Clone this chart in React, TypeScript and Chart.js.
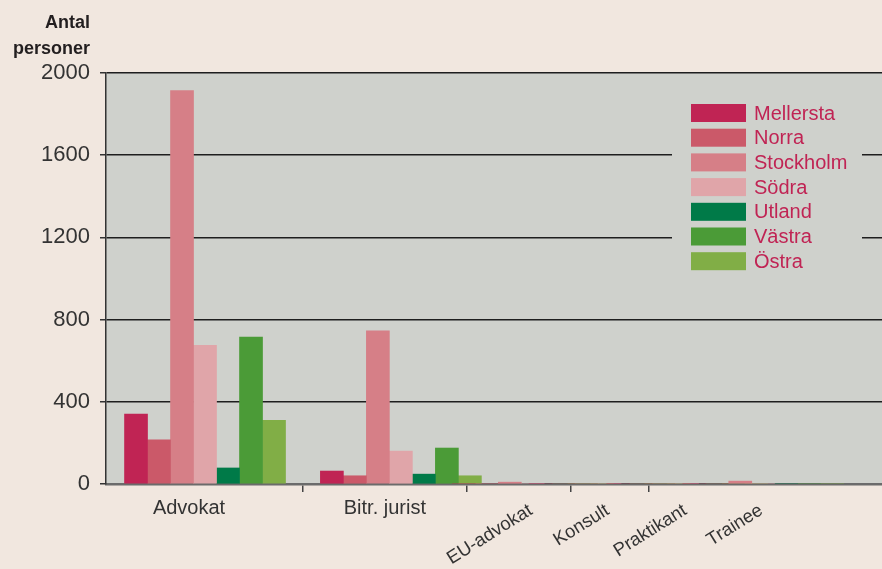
import React, { useEffect, useRef } from 'react';
import { Chart, registerables, CategoryScale } from 'chart.js';

Chart.register(...registerables);

// ---------- data ----------
const categories = ['Advokat', 'Bitr. jurist', 'EU-advokat', 'Konsult', 'Praktikant', 'Trainee'];
const seriesNames = ['Mellersta', 'Norra', 'Stockholm', 'Södra', 'Utland', 'Västra', 'Östra'];
const mellersta = [340, 63, 0, 0, 0, 0];
const norra = [215, 40, 0, 0, 0, 0];
const stockholm = [1915, 745, 9, 0, 0, 14];
const sodra = [675, 160, 0, 0, 0, 0];
const utland = [78, 48, 0, 0, 0, 0];
const vastra = [715, 175, 0, 0, 0, 0];
const ostra = [310, 40, 0, 0, 0, 0];
const yTicks = [0, 400, 800, 1200, 1600, 2000];
const axisTitle = ['Antal', 'personer'];

// ---------- style / layout ----------
const seriesValues = [mellersta, norra, stockholm, sodra, utland, vastra, ostra];
const seriesColors = ['#c02454', '#cb5969', '#d67f87', '#e0a5a9', '#007a48', '#4b9b37', '#81ae46'];
const PAGE_BG = '#f1e7df';
const PLOT_BG = '#cfd1cc';
const FONT = '"Liberation Sans", Arial, sans-serif';
// category centres as a fraction of the axis width (original chart uses uneven spacing)
const CATEGORY_CENTERS = [0.1276, 0.38, 0.55, 0.649, 0.749, 0.847];

class PlacedCategoryScale extends CategoryScale {
  static id = 'placedCategory';
  static defaults = CategoryScale.defaults;
  getPixelForValue(value: any) {
    if (typeof value !== 'number') value = (this as any).parse(value);
    if (value === null || value === undefined || isNaN(value)) return NaN;
    const n = CATEGORY_CENTERS.length;
    const v = Math.max(0, Math.min(n - 1, value));
    const lo = Math.floor(v);
    const hi = Math.ceil(v);
    const f = CATEGORY_CENTERS[lo] + (CATEGORY_CENTERS[hi] - CATEGORY_CENTERS[lo]) * (v - lo);
    return this.getPixelForDecimal(f);
  }
}
Chart.register(PlacedCategoryScale as any);

const plotBgPlugin = {
  id: 'plotBg',
  beforeDraw(chart: any) {
    const { ctx, chartArea: a } = chart;
    ctx.save();
    ctx.fillStyle = PLOT_BG;
    ctx.fillRect(a.left, a.top, a.right - a.left, a.bottom - a.top);
    ctx.restore();
  },
};

const textPlugin = {
  id: 'textPlugin',
  afterDraw(chart: any) {
    const { ctx, chartArea: a } = chart;
    const xs = chart.scales.x;
    ctx.save();
    // axis title
    ctx.font = `bold 18px ${FONT}`;
    ctx.fillStyle = '#231f20';
    ctx.textAlign = 'right';
    ctx.textBaseline = 'alphabetic';
    axisTitle.forEach((line, i) => ctx.fillText(line, a.left - 16, 28 + i * 26));

    // category labels
    ctx.fillStyle = '#333333';
    categories.forEach((label, i) => {
      const px = xs.getPixelForValue(i);
      if (i < 2) {
        ctx.font = `20px ${FONT}`;
        ctx.textAlign = 'center';
        ctx.textBaseline = 'middle';
        ctx.fillText(label, px - 16, a.bottom + 24);
      } else {
        ctx.save();
        ctx.font = `18.5px ${FONT}`;
        ctx.translate(px - 2, a.bottom + 25);
        ctx.rotate((-32 * Math.PI) / 180);
        ctx.textAlign = 'right';
        ctx.textBaseline = 'middle';
        ctx.fillText(label, 0, 0);
        ctx.restore();
      }
    });

    // legend
    const bgLeft = a.right - 210;
    const bgTop = a.top + 22;
    ctx.fillStyle = PLOT_BG;
    ctx.fillRect(bgLeft, bgTop, 190, 186);
    ctx.font = `20px ${FONT}`;
    ctx.textAlign = 'left';
    ctx.textBaseline = 'middle';
    chart.data.datasets.forEach((ds: any, i: number) => {
      const top = bgTop + 9 + i * 24.7;
      ctx.fillStyle = ds.backgroundColor;
      ctx.fillRect(bgLeft + 19, top, 55, 18);
      ctx.fillStyle = '#c02454';
      ctx.fillText(ds.label, bgLeft + 82, top + 10);
    });
    ctx.restore();
  },
};

export default function App() {
  const ref = useRef<HTMLCanvasElement | null>(null);

  useEffect(() => {
    if (!ref.current) return;
    Chart.defaults.font.family = FONT;
    const chart = new Chart(ref.current, {
      type: 'bar',
      data: {
        labels: categories,
        datasets: seriesNames.map((name, i) => ({
          label: name,
          data: seriesValues[i],
          backgroundColor: seriesColors[i],
          borderWidth: 0,
          barThickness: 23,
        })),
      },
      options: {
        animation: false,
        responsive: false,
        layout: { padding: { top: 73, left: 0, right: 0, bottom: 0 } },
        plugins: {
          legend: { display: false },
          tooltip: { enabled: false },
        },
        scales: {
          x: {
            type: 'placedCategory' as any,
            offset: true,
            grid: {
              drawOnChartArea: false,
              drawTicks: true,
              tickLength: 8,
              offset: true,
              lineWidth: 1.5,
              tickColor: (c: any) => (c.index >= 1 && c.index <= 4 ? '#444444' : 'rgba(0,0,0,0)'),
            },
            border: { display: true, color: '#6b6b6b', width: 2.5 },
            ticks: { display: false },
            afterFit: (s: any) => {
              s.height = 85;
            },
          } as any,
          y: {
            min: yTicks[0],
            max: yTicks[yTicks.length - 1],
            afterBuildTicks: (s: any) => {
              s.ticks = yTicks.map((v) => ({ value: v }));
            },
            grid: {
              color: (c: any) => (c.tick && c.tick.value === 0 ? 'rgba(0,0,0,0)' : '#1e1e1e'),
              lineWidth: 1.5,
              tickLength: 6,
              tickColor: '#333333',
            },
            border: { display: true, color: '#333333', width: 1.5 },
            ticks: {
              padding: 10,
              color: '#333333',
              font: { size: 22, family: FONT },
              callback: (v: any) => String(v),
            },
            afterFit: (s: any) => {
              s.width = 106;
            },
          },
        },
      },
      plugins: [plotBgPlugin, textPlugin],
    });
    return () => chart.destroy();
  }, []);

  return (
    <div style={{ position: 'fixed', left: 0, top: 0, width: 882, height: 569, background: PAGE_BG }}>
      <canvas ref={ref} width={882} height={569} style={{ display: 'block' }} />
    </div>
  );
}
